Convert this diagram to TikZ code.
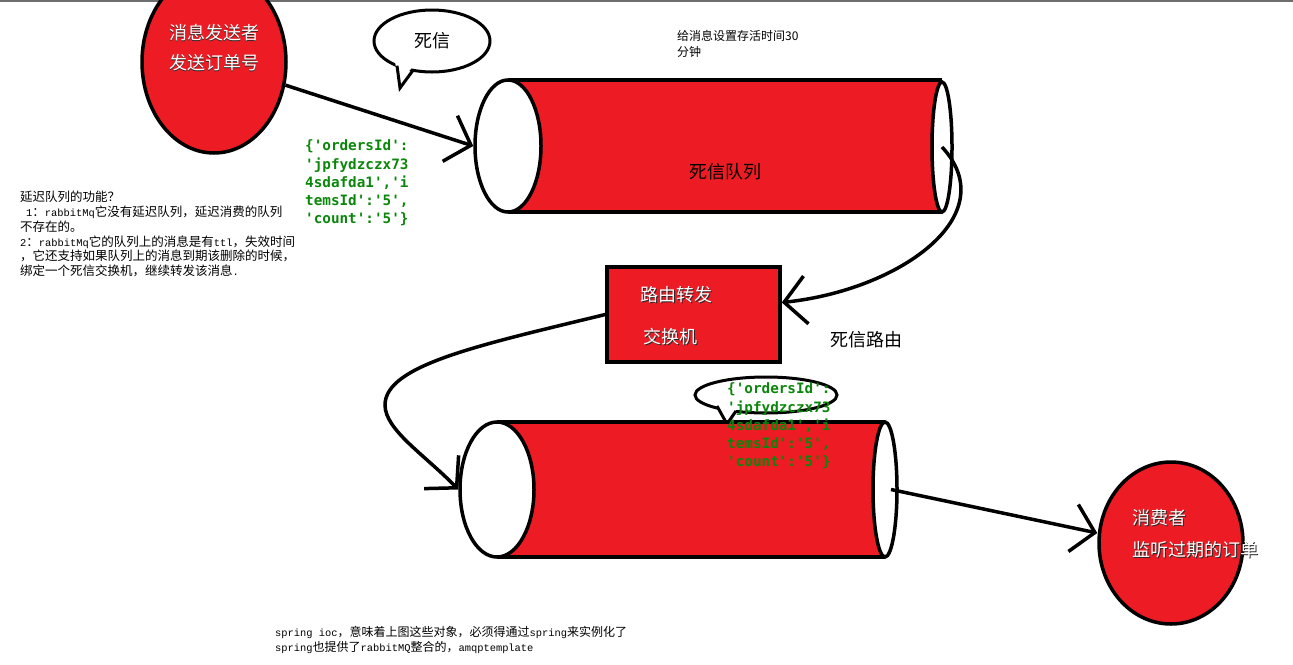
\documentclass[tikz,border=0pt]{standalone}
\usepackage{fontspec}
\usetikzlibrary{shapes.geometric,arrows.meta}
\newfontfamily\cjk{Noto Sans CJK SC}
\newfontfamily\smono{Liberation Mono}
\newfontfamily\jsonfont{DejaVu Sans Mono Bold}
\definecolor{paintred}{RGB}{237,28,36}
\definecolor{jsongreen}{RGB}{10,135,10}
\definecolor{shade}{RGB}{40,40,40}
\newcommand{\sm}[1]{{\smono\fontsize{10.4}{12}\selectfont #1}}
\newcommand{\sh}[1]{\leavevmode\rlap{\kern0.8pt\raisebox{-0.8pt}{\textcolor{shade}{#1}}}#1}
\tikzset{
  outl/.style={line width=3.5pt, draw=black},
  arr/.style={line width=3.5pt, -{Straight Barb[length=22pt,width=48pt]}},
  wlabel/.style={text=white, font=\cjk\fontsize{18}{18}\selectfont, anchor=west, inner sep=0pt},
  blabel/.style={text=black, font=\cjk\fontsize{18}{18}\selectfont, inner sep=0pt},
  note/.style={align=left, anchor=west, inner sep=0pt},
  json/.style={text=jsongreen, font=\jsonfont\fontsize{14.3}{18.2}\selectfont, align=left, anchor=west, inner sep=0pt},
  endcap/.style={ellipse, outl, fill=white, inner sep=0pt},
}
\begin{document}
\begin{tikzpicture}[x=1pt,y=-1pt]
\useasboundingbox (0,0) rectangle (1293,664);
\clip (0,0) rectangle (1293,664);
\draw[line width=2pt, draw={rgb,255:red,110;green,110;blue,110}] (0,1) -- (1293,1);

% sender
\node[ellipse, outl, fill=paintred, minimum width=144, minimum height=182, inner sep=0pt] (sender) at (214,62) {};
\node[wlabel, anchor=center, align=center, font=\cjk\fontsize{18}{30}\selectfont] (sendertext) at (214,48) {\sh{消息发送者}\\\sh{发送订单号}};

% bubble 1
\node[ellipse, draw=black, line width=3pt, fill=white, minimum width=116, minimum height=62, inner sep=0pt, font=\cjk\fontsize{18}{18}\selectfont] (bubble1) at (432,41) {死信};
\fill[white] (394,56) -- (399,84) -- (418,60) -- cycle;
\draw[line width=3pt] (397,65.7) -- (400,88) -- (413,70.3);

% top note
\node[note, font=\cjk\fontsize{12}{16}\selectfont] (ttlnote) at (677,44) {给消息设置存活时间30\\分钟};

% top queue
\fill[paintred] (508,80) rectangle (942,212);
\draw[outl] (508,80) -- (942,80) (508,212) -- (942,212);
\node[endcap, minimum width=66, minimum height=132] (q1l) at (508,146) {};
\node[endcap, minimum width=20, minimum height=130] (q1r) at (942,147) {};
\node[blabel] (q1text) at (725,172) {死信队列};

% json 1
\node[json] (json1) at (305,183) {\{'ordersId':\\'jpfydzczx73\\4sdafda1','i\\temsId':'5',\\'count':'5'\}};

% left note
\node[note, font=\cjk\fontsize{12.5}{14.8}\selectfont] (funcnote) at (20,234) {延迟队列的功能？\\
\hspace*{6pt}\sm{1}：\sm{rabbitMq}它没有延迟队列，延迟消费的队列\\
不存在的。\\
\sm{2}：\sm{rabbitMq}它的队列上的消息是有\sm{ttl}，失效时间\\
，它还支持如果队列上的消息到期该删除的时候，\\
绑定一个死信交换机，继续转发该消息\sm{.}};

% router
\node[outl, fill=paintred, minimum width=173, minimum height=95, inner sep=0pt] (router) at (693.5,314.5) {};
\node[wlabel] (rtext1) at (640,295) {\sh{路由转发}};
\node[wlabel] (rtext2) at (643,337) {\sh{交换机}};
\node[blabel, anchor=west] (dlrtext) at (830,340) {死信路由};

% bubble 2
\node[ellipse, draw=black, line width=3pt, fill=white, minimum width=142, minimum height=36, inner sep=0pt] (bubble2) at (766,395) {};
\fill[white] (714,402) -- (727,424) -- (740,404) -- cycle;
\draw[line width=3pt] (717,406) -- (727,424) -- (736,411);

% bottom queue
\fill[paintred] (497,422) rectangle (885,557);
\draw[outl] (497,422) -- (885,422) (497,557) -- (885,557);
\node[endcap, minimum width=74, minimum height=135] (q2l) at (497,489.5) {};
\node[endcap, minimum width=24, minimum height=135] (q2r) at (885,489.5) {};

% json 2
\node[json] (json2) at (727,426) {\{'ordersId':\\'jpfydzczx73\\4sdafda1','i\\temsId':'5',\\'count':'5'\}};

% consumer
\node[ellipse, outl, fill=paintred, minimum width=144, minimum height=162, inner sep=0pt] (consumer) at (1171,543) {};
\node[wlabel, align=left, font=\cjk\fontsize{18}{32}\selectfont] (ctext) at (1132,534) {\sh{消费者}\\\sh{监听过期的订单}};

% bottom note
\node[note, font=\cjk\fontsize{12}{15}\selectfont] (springnote) at (275,639.5) {\sm{spring ioc}，意味着上图这些对象，必须得通过\sm{spring}来实例化了\\
\sm{spring}也提供了\sm{rabbitMQ}整合的，\sm{amqptemplate}};

% connectors
\draw[arr] (sender) -- (q1l.west);
\draw[arr] (q1r.center) .. controls (1005,215) and (900,290) .. ([yshift=12pt]router.east);
\draw[arr] (router.west) .. controls (480,345) and (385,365) .. (385,405) .. controls (385,430) and (425,455) .. (q2l.west);
\draw[arr] ([xshift=6pt]q2r.center) -- ([yshift=10pt]consumer.west);
\end{tikzpicture}
\end{document}
